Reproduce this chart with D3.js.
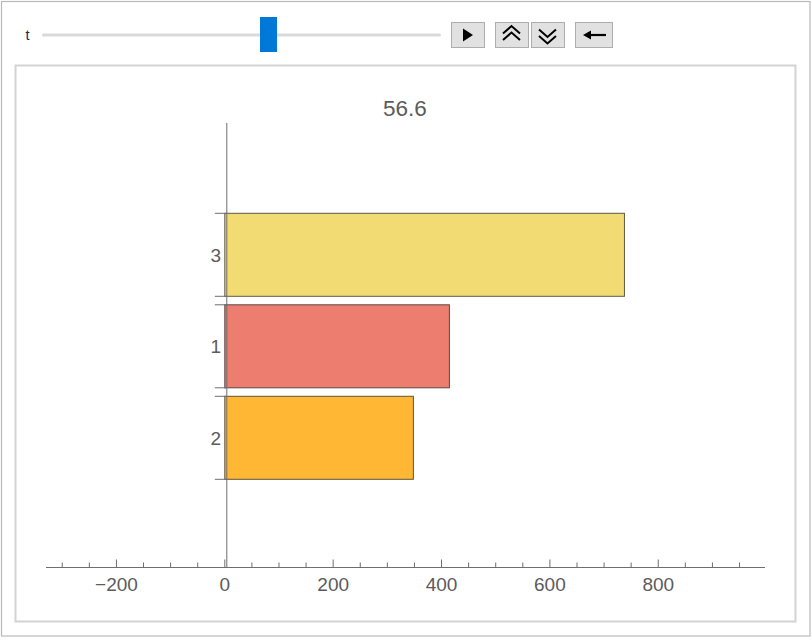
<!DOCTYPE html>
<html>
<head>
<meta charset="utf-8">
<script src="https://cdn.jsdelivr.net/npm/d3@7"></script>
<style>
  html, body { margin: 0; padding: 0; background: #fff; }
  svg { display: block; }
  text { font-family: "Liberation Sans", Arial, sans-serif; }
</style>
</head>
<body>
<script>
// ---- data ----
const categories = ["3", "1", "2"];
const values = [737.6, 414.5, 348];
const colors = ["#F2DB72", "#EC7D6F", "#FFB734"];
const title = "56.6";
const xDomain = [-330, 997];
const majorTicks = [-200, 0, 200, 400, 600, 800];
const minorTicks = d3.range(-300, 951, 50);
const sliderLabel = "t";
const sliderDomain = [0, 100];
const sliderValue = 56.6;

const W = 812, H = 640;
const svg = d3.select("body").append("svg").attr("width", W).attr("height", H);

// frames
svg.append("rect").attr("x", 1.5).attr("y", 1.5).attr("width", 808.5).attr("height", 634.5)
  .attr("fill", "#fff").attr("stroke", "#b9b9b9").attr("stroke-width", 1.2);
svg.append("rect").attr("x", 15.5).attr("y", 65.5).attr("width", 780).attr("height", 556)
  .attr("fill", "#fff").attr("stroke", "#d3d3d3").attr("stroke-width", 2);

// ---- slider controls ----
const sx = d3.scaleLinear().domain(sliderDomain).range([42, 441]);
svg.append("text").attr("x", 25.5).attr("y", 39.5).attr("font-size", 14.5).attr("fill", "#1b2750").text(sliderLabel);
svg.append("rect").attr("x", sx(sliderDomain[0])).attr("y", 33.5).attr("width", sx(sliderDomain[1]) - sx(sliderDomain[0]))
  .attr("height", 3).attr("rx", 1.5).attr("fill", "#dadada");
svg.append("rect").attr("x", 260).attr("y", 17).attr("width", 17).attr("height", 35).attr("fill", "#0078d7");

function button(x0, x1) {
  svg.append("rect").attr("x", x0 + 0.5).attr("y", 22.5).attr("width", x1 - x0).attr("height", 25)
    .attr("fill", "#e1e1e1").attr("stroke", "#adadad").attr("stroke-width", 1);
}
button(451, 484);
svg.append("path").attr("d", "M463,28.5 L473,35 L463,41.5 Z").attr("fill", "#000");
button(495, 528);
svg.append("path").attr("d", "M503,33.5 L511.5,26 L520,33.5 M503,40 L511.5,32.5 L520,40")
  .attr("fill", "none").attr("stroke", "#000").attr("stroke-width", 2);
button(531, 564);
svg.append("path").attr("d", "M539,29.5 L547.5,37 L556,29.5 M539,36 L547.5,43.5 L556,36")
  .attr("fill", "none").attr("stroke", "#000").attr("stroke-width", 2);
button(575, 612);
svg.append("path").attr("d", "M586,35 L606,35").attr("stroke", "#000").attr("stroke-width", 2.2);
svg.append("path").attr("d", "M583,35 L591,30.5 L591,39.5 Z").attr("fill", "#000");

// ---- chart ----
const x = d3.scaleLinear().domain(xDomain).range([46, 765]);
const y = d3.scaleBand().domain(categories).range([213.3, 479.3]).paddingInner(0.0929).paddingOuter(0);
const axisY = 567.5;
const yAxisX = x(0) + 2;
const textColor = "#5b5b5b";
const axisColor = "#6e6e6e";

// title
svg.append("text").attr("x", 405).attr("y", 115.5).attr("text-anchor", "middle")
  .attr("font-size", 22.5).attr("fill", textColor).text(title);

// bars
const data = categories.map((c, i) => ({ c, v: values[i], col: colors[i] }));
svg.append("g").selectAll("rect").data(data).join("rect")
  .attr("x", d => x(0))
  .attr("y", d => y(d.c))
  .attr("width", d => x(d.v) - x(0))
  .attr("height", y.bandwidth())
  .attr("fill", d => d.col)
  .attr("stroke", d => d3.interpolateRgb(d.col, "#3a3a3a")(0.8))
  .attr("stroke-width", 1);

// x axis
const gx = svg.append("g");
gx.append("line").attr("x1", x(xDomain[0])).attr("x2", x(xDomain[1])).attr("y1", axisY).attr("y2", axisY)
  .attr("stroke", axisColor).attr("stroke-width", 1);
gx.selectAll("line.minor").data(minorTicks).join("line").attr("class", "minor")
  .attr("x1", d => x(d)).attr("x2", d => x(d))
  .attr("y1", axisY).attr("y2", d => majorTicks.includes(d) ? axisY - 8 : axisY - 5)
  .attr("stroke", axisColor).attr("stroke-width", 1);
gx.selectAll("text").data(majorTicks).join("text")
  .attr("x", d => x(d)).attr("y", 591)
  .attr("text-anchor", "middle").attr("font-size", 19).attr("fill", textColor)
  .text(d => d < 0 ? "\u2212" + Math.abs(d) : String(d));

// y axis
const gy = svg.append("g");
gy.append("line").attr("x1", yAxisX).attr("x2", yAxisX).attr("y1", 123).attr("y2", axisY)
  .attr("stroke", axisColor).attr("stroke-width", 1);
const edges = [];
categories.forEach(c => { edges.push(y(c)); edges.push(y(c) + y.bandwidth()); });
gy.selectAll("line.tk").data(edges).join("line").attr("class", "tk")
  .attr("x1", yAxisX - 12).attr("x2", yAxisX)
  .attr("y1", d => d).attr("y2", d => d)
  .attr("stroke", axisColor).attr("stroke-width", 1);
gy.selectAll("text").data(categories).join("text")
  .attr("x", 221).attr("y", d => y(d) + y.bandwidth() / 2)
  .attr("dy", "0.36em")
  .attr("text-anchor", "end").attr("font-size", 19).attr("fill", textColor)
  .text(d => d);
</script>
</body>
</html>
